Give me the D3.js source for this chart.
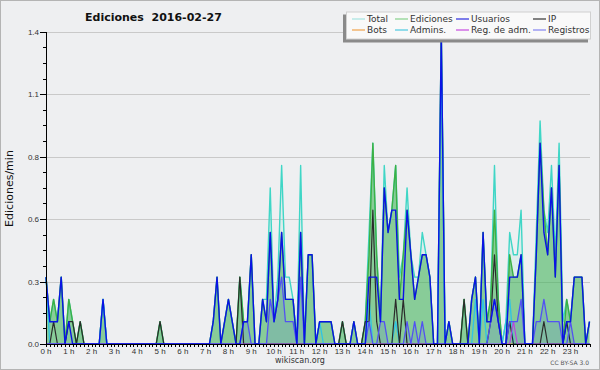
<!DOCTYPE html>
<html>
<head>
<meta charset="utf-8">
<script src="https://cdn.jsdelivr.net/npm/d3@7/dist/d3.min.js"></script>
<style>
  body { margin: 0; background: #eeeff1; }
  svg { display: block; font-family: 'DejaVu Sans', sans-serif; }
  .axis path, .axis line { stroke: #000; shape-rendering: crispEdges; }
  .axis text { fill: #333; font-size: 8px; }
  .grid line { stroke: #c9c9c9; shape-rendering: crispEdges; }
  .grid path { display: none; }
</style>
</head>
<body>
<svg id="chart" width="600" height="370"></svg>
<script>
// valeurs par tranche de 10 min (144 points), lues sur l'image
// une ligne = 4 heures
const total = [
  .3,.1,.2,.1,.3,0, .2,.1,0,.1,0,0, 0,0,0,.2,0,0, 0,0,0,0,0,0,
  0,0,0,0,0,0, .1,0,0,0,0,0, 0,0,0,0,0,0, 0,0,.1,.3,0,.1,
  .2,.1,0,.3,.1,.1, .4,0,0,.2,.2,.7, .1,.3,.8,.3,.3,.2, 0,.8,0,.4,.4,0,
  .1,.1,.1,.1,0,0, .1,0,0,.1,0,0, .1,.5,.9,.4,.1,.8, .5,.6,.8,.3,.4,.7,
  .4,.3,.3,.5,.4,.3, 0,0,1.4,0,.1,0, 0,0,.2,0,.2,.3, 0,.5,.1,.2,.8,.2,
  0,.1,.5,.4,.4,.6, 0,0,0,.5,1,.6, .5,.8,.4,.9,.1,.2, .1,.3,.3,.3,0,.1
];
const ediciones = [
  .3,.1,.2,.1,.3,0, .2,.1,0,.1,0,0, 0,0,0,.2,0,0, 0,0,0,0,0,0,
  0,0,0,0,0,0, .1,0,0,0,0,0, 0,0,0,0,0,0, 0,0,.1,.3,0,.1,
  .2,.1,0,.3,.1,.1, .4,0,0,.2,.1,.5, .1,.2,.5,.2,.2,.2, 0,.5,0,.4,.4,0,
  .1,.1,.1,.1,0,0, .1,0,0,.1,0,0, .1,.4,.9,.4,.1,.7, .5,.6,.8,.2,.4,.6,
  .4,.2,.3,.4,.4,.3, 0,0,1.4,0,.1,0, 0,0,.2,0,.2,.3, 0,.5,.1,.2,.6,.2,
  0,0,.4,.3,.3,.4, 0,0,0,.4,.9,.6, .4,.7,.3,.8,0,.2, .1,.3,.3,.3,0,.1
];
const usuarios = [
  .3,.1,.1,.1,.3,0, .1,0,0,0,0,0, 0,0,0,.2,0,0, 0,0,0,0,0,0,
  0,0,0,0,0,0, 0,0,0,0,0,0, 0,0,0,0,0,0, 0,0,.1,.3,0,.1,
  .2,.1,0,0,.1,.1, .4,0,0,.2,.1,.5, .1,.2,.5,.2,.2,.2, 0,.5,0,.4,.4,0,
  .1,.1,.1,.1,0,0, 0,0,0,.1,0,0, 0,.3,.3,.3,.1,.7, .5,.6,.6,.2,.2,.6,
  .4,.2,.3,.4,.4,.3, 0,0,1.4,0,.1,0, 0,0,0,0,.2,.3, 0,.5,.1,.1,.2,.1,
  0,0,.3,.3,.3,.4, 0,0,0,.4,.9,.5, .4,.7,.3,.8,0,.1, .1,.3,.3,.3,0,.1
];
const ip = [
  0,0,.1,0,0,0, .1,.1,0,.1,0,0, 0,0,0,0,0,0, 0,0,0,0,0,0,
  0,0,0,0,0,0, .1,0,0,0,0,0, 0,0,0,0,0,0, 0,0,0,0,0,0,
  0,0,0,.3,0,0, 0,0,0,0,0,0, 0,0,0,0,0,0, 0,0,0,0,0,0,
  0,0,0,0,0,0, .1,0,0,0,0,0, .1,.1,.6,.1,0,0, 0,0,.2,0,.2,0,
  0,0,0,0,0,0, 0,0,0,0,0,0, 0,0,.2,0,0,0, 0,0,0,.1,.4,.1,
  0,0,.1,0,0,0, 0,0,0,0,0,.1, 0,0,0,0,0,.1, 0,0,0,0,0,0
];
const bots = [
  0,0,0,0,0,0, 0,0,0,0,0,0, 0,0,0,0,0,0, 0,0,0,0,0,0,
  0,0,0,0,0,0, 0,0,0,0,0,0, 0,0,0,0,0,0, 0,0,0,0,0,0,
  0,0,0,0,0,0, 0,0,0,0,0,0, 0,0,0,0,0,0, 0,0,0,0,0,0,
  0,0,0,0,0,0, 0,0,0,0,0,0, 0,0,0,0,0,0, 0,0,0,0,0,0,
  0,0,0,0,0,0, 0,0,0,0,0,0, 0,0,0,0,0,0, 0,0,0,0,0,0,
  0,0,0,0,0,0, 0,0,0,0,0,0, 0,0,0,0,0,0, 0,0,0,0,0,0
];
const admins = [
  .3,0,0,0,0,0, 0,0,0,0,0,0, 0,0,0,.2,0,0, 0,0,0,0,0,0,
  0,0,0,0,0,0, 0,0,0,0,0,0, 0,0,0,0,0,0, 0,0,0,0,0,0,
  0,0,0,0,0,0, 0,0,0,0,0,0, 0,0,0,0,0,0, 0,0,0,0,0,0,
  .1,0,0,0,0,0, 0,0,0,0,0,0, 0,.2,0,0,0,0, 0,0,.1,0,0,0,
  0,0,0,0,0,0, 0,0,1.3,0,0,0, 0,0,0,0,0,.2, 0,.2,0,0,0,0,
  0,.1,.2,0,0,0, 0,0,0,0,0,0, 0,0,0,0,0,.1, 0,0,0,0,0,0
];
const regAdm = [
  0,0,0,0,0,0, 0,0,0,0,0,0, 0,0,0,0,0,0, 0,0,0,0,0,0,
  0,0,0,0,0,0, 0,0,0,0,0,0, 0,0,0,0,0,0, 0,0,0,0,0,0,
  0,0,0,0,0,0, 0,0,0,0,0,0, 0,0,0,0,0,0, 0,0,0,0,0,0,
  0,0,0,0,0,0, 0,0,0,0,0,0, 0,0,0,0,0,0, 0,0,0,0,0,0,
  0,0,0,0,0,0, 0,0,0,0,0,0, 0,0,0,0,0,0, 0,0,0,0,0,0,
  0,0,0,.1,0,0, 0,0,0,0,0,0, 0,0,0,0,0,0, 0,0,0,0,0,0
];
const registros = [
  0,0,0,0,0,0, 0,0,0,0,0,0, 0,0,0,0,0,0, 0,0,0,0,0,0,
  0,0,0,0,0,0, 0,0,0,0,0,0, 0,0,0,0,0,0, 0,0,0,0,0,0,
  0,0,0,0,.1,.1, 0,0,0,0,0,.2, .1,.2,.3,.1,.1,.1, 0,.3,0,0,0,0,
  0,0,0,0,0,0, 0,0,0,0,0,0, 0,.1,0,0,.1,.1, 0,0,0,0,0,.1,
  0,.1,0,.1,0,0, 0,0,0,0,0,0, 0,0,0,0,0,0, 0,0,0,.1,.2,.1,
  0,0,.1,.1,.1,.2, 0,0,0,.1,.1,.2, .1,.1,.1,.1,0,0, .1,0,0,0,0,0
];

const hourLabels = d3.range(24).map(h => h + ' h');
const yTicks = [0, 0.28, 0.56, 0.84, 1.12, 1.4];
const legendItems = [
  ['Total', '#a6e3df'], ['Ediciones', '#86d08a'], ['Usuarios', '#2a2ae0'], ['IP', '#333333'],
  ['Bots', '#f0a24a'], ['Admins.', '#4cc8e0'], ['Reg. de adm.', '#c64ae0'], ['Registros', '#8282f0']
];

const margin = { top: 31.7, left: 46, right: 10, bottom: 26 };
const width = 600, height = 370;

const svg = d3.select('#chart');

// fond + cadre
svg.append('rect')
  .attr('x', 0.5).attr('y', 0.5)
  .attr('width', width - 1).attr('height', height - 1)
  .attr('fill', '#eeeff1').attr('stroke', '#b4b4b4');

const x = d3.scaleLinear().domain([0, 143]).range([margin.left, 589.5]);
const y = d3.scaleLinear().domain([0, 1.4]).range([height - margin.bottom, margin.top]);

// grille horizontale
svg.append('g')
  .attr('class', 'grid')
  .attr('transform', `translate(${margin.left}, 0)`)
  .call(d3.axisRight(y).tickValues(yTicks).tickSize(544).tickFormat(''));

// surfaces
const area = d3.area().x((d, i) => x(i)).y0(y(0)).y1(d => y(d));
const line = d3.line().x((d, i) => x(i)).y(d => y(d));

const plot = svg.append('g');
plot.append('path').attr('d', area(total)).attr('fill', '#40d8c8').attr('fill-opacity', 0.1);
plot.append('path').attr('d', area(ediciones)).attr('fill', '#3caf4b').attr('fill-opacity', 0.52);
plot.append('path').attr('d', area(registros)).attr('fill', '#4646ff').attr('fill-opacity', 0.12);

// courbes
const series = [
  [total, '#3fd6c6', 1.4],
  [ediciones, '#3cb044', 1.4],
  [bots, '#f0a030', 1.2],
  [admins, '#2fc4e4', 1.3],
  [ip, '#2b2b2b', 1.2],
  [regAdm, '#c040e0', 1.1],
  [registros, '#5252f2', 1.3],
  [usuarios, '#0a12e6', 1.4]
];
series.forEach(([data, color, w]) => {
  plot.append('path')
    .attr('d', line(data))
    .attr('fill', 'none')
    .attr('stroke', color)
    .attr('stroke-width', w)
    .attr('stroke-linejoin', 'round');
});

// axe Y : graduations principales + secondaires
const yAxis = svg.append('g')
  .attr('class', 'axis')
  .attr('transform', `translate(${margin.left}, 0)`);
yAxis.call(d3.axisLeft(y).tickValues(yTicks).tickSize(6).tickPadding(1).tickFormat(d3.format('.1f')));
yAxis.append('g').call(
  d3.axisLeft(y).tickValues(d3.range(0, 1.4, 0.07)).tickSize(3).tickFormat('')
).select('.domain').remove();

// axe X : un trait toutes les 10 min, etiquette par heure
const xAxis = svg.append('g')
  .attr('class', 'axis')
  .attr('transform', `translate(0, ${y(0)})`);
xAxis.call(d3.axisBottom(x).tickValues(d3.range(0, 144)).tickSize(3).tickFormat('').tickSizeOuter(0));
xAxis.selectAll('.domain').attr('d', `M${margin.left},0H590`);
xAxis.append('g')
  .selectAll('text')
  .data(hourLabels)
  .join('text')
  .attr('x', (d, i) => x(i * 6))
  .attr('y', 9.5)
  .attr('text-anchor', 'middle')
  .text(d => d);

// titres
svg.append('text')
  .attr('x', 85).attr('y', 20.7)
  .attr('font-size', 11).attr('font-weight', 'bold').attr('fill', '#111')
  .style('white-space', 'pre')
  .text('Ediciones  2016-02-27');

svg.append('text')
  .attr('transform', 'translate(13, 188.5) rotate(-90)')
  .attr('text-anchor', 'middle')
  .attr('font-size', 11).attr('fill', '#111')
  .text('Ediciones/min');

svg.append('text')
  .attr('x', 300).attr('y', 363)
  .attr('text-anchor', 'middle')
  .attr('font-size', 8).attr('fill', '#333')
  .text('wikiscan.org');

svg.append('text')
  .attr('x', 589).attr('y', 364.5)
  .attr('text-anchor', 'end')
  .attr('font-size', 6).attr('fill', '#555')
  .text('CC BY-SA 3.0');

// legende
const legend = svg.append('g').attr('transform', 'translate(346, 11.5)');
legend.append('rect')
  .attr('x', -3).attr('y', 3).attr('width', 245).attr('height', 28)
  .attr('fill', '#8a8a8a');
legend.append('rect')
  .attr('x', 0.5).attr('y', 0.5).attr('width', 244).attr('height', 27)
  .attr('fill', '#f9f9f9').attr('stroke', '#d0d0d0');

const colX = [6, 49, 110, 187];
legendItems.forEach(([name, color], i) => {
  const cx = colX[i % 4];
  const cy = i < 4 ? 7.5 : 18.5;
  legend.append('line')
    .attr('x1', cx).attr('x2', cx + 13)
    .attr('y1', cy).attr('y2', cy)
    .attr('stroke', color).attr('stroke-width', 1.2);
  legend.append('text')
    .attr('x', cx + 15).attr('y', cy + 3.3)
    .attr('font-size', 9).attr('fill', '#333')
    .text(name);
});
</script>
</body>
</html>
